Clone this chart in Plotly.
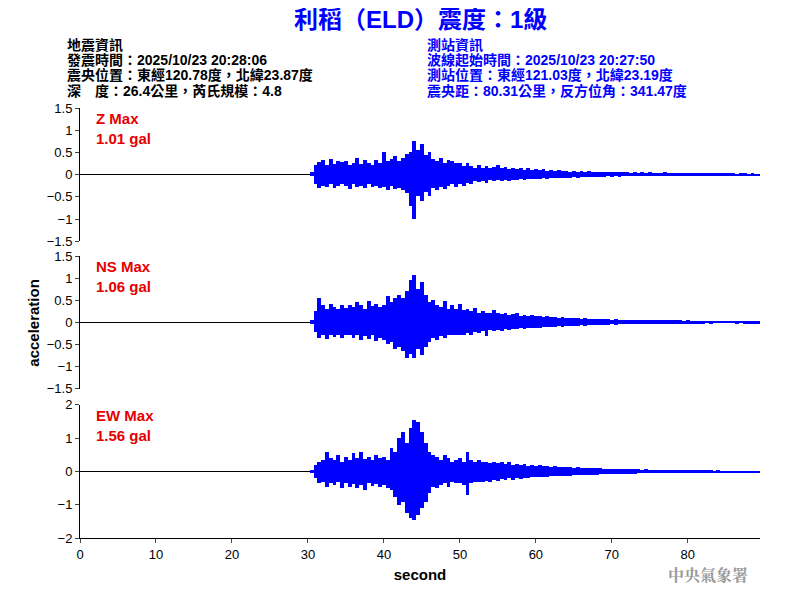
import plotly.graph_objects as go
from plotly.subplots import make_subplots

# 各分量振幅包絡（gal），每 0.5 秒一格，自 30.5 秒起
T_START = 30.5
DT = 0.5

Z_HI = [0.05, 0.22, 0.28, 0.32, 0.22, 0.36, 0.25, 0.3, 0.28,
        0.3, 0.22, 0.27, 0.38, 0.25, 0.32, 0.27, 0.22, 0.33, 0.26,
        0.5, 0.3, 0.36, 0.42, 0.3, 0.38, 0.46, 0.52, 0.75, 0.55,
        0.68, 0.45, 0.52, 0.35, 0.3, 0.38, 0.26, 0.32, 0.3, 0.26,
        0.27, 0.2, 0.26, 0.2, 0.16, 0.22, 0.15, 0.2, 0.14, 0.18,
        0.22, 0.14, 0.17, 0.13, 0.16, 0.12, 0.15, 0.11, 0.14, 0.1,
        0.13, 0.1, 0.12, 0.09, 0.11, 0.08, 0.1, 0.08, 0.09, 0.07,
        0.09, 0.07, 0.08, 0.06, 0.08, 0.06, 0.07, 0.06, 0.07, 0.05,
        0.06, 0.05, 0.06, 0.05, 0.06, 0.04, 0.05, 0.04, 0.05, 0.04,
        0.05, 0.04, 0.04, 0.04, 0.05, 0.03, 0.04, 0.03, 0.04, 0.03,
        0.04, 0.03, 0.04, 0.03, 0.03, 0.03, 0.04, 0.03, 0.03, 0.03,
        0.03, 0.03, 0.03, 0.02, 0.03, 0.03, 0.02, 0.03, 0.02, 0.02]
Z_LO = [-0.04, -0.2, -0.3, -0.25, -0.28, -0.22, -0.3, -0.25, -0.22,
        -0.26, -0.32, -0.22, -0.28, -0.25, -0.3, -0.22, -0.28, -0.25, -0.3,
        -0.28, -0.35, -0.25, -0.32, -0.3, -0.35, -0.42, -0.7, -1.0, -0.48,
        -0.6, -0.4, -0.48, -0.3, -0.35, -0.28, -0.32, -0.25, -0.22, -0.28,
        -0.2, -0.25, -0.18, -0.2, -0.15, -0.17, -0.14, -0.18, -0.13, -0.15,
        -0.13, -0.15, -0.12, -0.14, -0.11, -0.12, -0.1, -0.12, -0.09, -0.1,
        -0.09, -0.1, -0.08, -0.09, -0.08, -0.08, -0.07, -0.08, -0.07, -0.07,
        -0.06, -0.07, -0.06, -0.06, -0.05, -0.06, -0.05, -0.05, -0.05, -0.04,
        -0.05, -0.04, -0.05, -0.04, -0.04, -0.04, -0.04, -0.04, -0.03, -0.04,
        -0.03, -0.04, -0.03, -0.03, -0.03, -0.03, -0.03, -0.03, -0.03, -0.02,
        -0.03, -0.02, -0.03, -0.02, -0.03, -0.02, -0.02, -0.02, -0.02, -0.02,
        -0.02, -0.02, -0.02, -0.02, -0.02, -0.02, -0.02, -0.02, -0.02, -0.02]

NS_HI = [0.05, 0.25, 0.55, 0.4, 0.3, 0.42, 0.35, 0.3, 0.38,
         0.32, 0.4, 0.35, 0.45, 0.38, 0.3, 0.48, 0.36, 0.42, 0.35,
         0.4, 0.6, 0.45, 0.55, 0.62, 0.55, 0.7, 0.95, 1.06, 0.75,
         0.9, 0.62, 0.45, 0.5, 0.4, 0.35, 0.48, 0.3, 0.38, 0.3,
         0.42, 0.28, 0.3, 0.25, 0.32, 0.22, 0.26, 0.2, 0.22, 0.28,
         0.2, 0.18, 0.22, 0.16, 0.18, 0.2, 0.15, 0.17, 0.14, 0.16,
         0.13, 0.15, 0.12, 0.13, 0.11, 0.12, 0.1, 0.11, 0.1, 0.1,
         0.09, 0.1, 0.08, 0.09, 0.08, 0.08, 0.07, 0.08, 0.07, 0.07,
         0.06, 0.07, 0.06, 0.06, 0.05, 0.06, 0.05, 0.05, 0.05, 0.05,
         0.05, 0.04, 0.05, 0.04, 0.04, 0.04, 0.04, 0.04, 0.04, 0.03,
         0.04, 0.03, 0.03, 0.03, 0.03, 0.03, 0.03, 0.03, 0.03, 0.03,
         0.03, 0.03, 0.03, 0.02, 0.03, 0.02, 0.02, 0.02, 0.02, 0.02]
NS_LO = [-0.05, -0.22, -0.35, -0.3, -0.38, -0.28, -0.33, -0.3, -0.35,
         -0.3, -0.28, -0.35, -0.3, -0.4, -0.32, -0.38, -0.3, -0.42, -0.35,
         -0.4, -0.5, -0.45, -0.6, -0.55, -0.65, -0.8, -0.72, -0.8, -0.6,
         -0.75, -0.55, -0.45, -0.35, -0.4, -0.32, -0.35, -0.28, -0.3, -0.3,
         -0.28, -0.3, -0.25, -0.28, -0.22, -0.25, -0.2, -0.32, -0.18, -0.2,
         -0.18, -0.2, -0.16, -0.17, -0.15, -0.16, -0.14, -0.15, -0.13, -0.13,
         -0.12, -0.13, -0.11, -0.11, -0.1, -0.1, -0.09, -0.1, -0.09, -0.08,
         -0.08, -0.08, -0.07, -0.08, -0.07, -0.07, -0.06, -0.06, -0.06, -0.06,
         -0.05, -0.06, -0.05, -0.05, -0.05, -0.05, -0.04, -0.05, -0.04, -0.04,
         -0.04, -0.04, -0.04, -0.04, -0.03, -0.04, -0.03, -0.03, -0.03, -0.03,
         -0.03, -0.03, -0.03, -0.03, -0.03, -0.02, -0.03, -0.02, -0.02, -0.02,
         -0.02, -0.02, -0.02, -0.02, -0.02, -0.02, -0.02, -0.02, -0.02, -0.02]

EW_HI = [0.05, 0.2, 0.3, 0.35, 0.6, 0.4, 0.35, 0.5, 0.3,
         0.45, 0.35, 0.55, 0.4, 0.6, 0.38, 0.45, 0.35, 0.5, 0.4,
         0.45, 0.35, 0.7, 0.6, 1.0, 1.2, 0.85, 1.3, 1.56, 1.5,
         1.2, 0.85, 0.6, 0.5, 0.45, 0.35, 0.5, 0.4, 0.3, 0.35,
         0.4, 0.3, 0.6, 0.35, 0.3, 0.35, 0.28, 0.3, 0.25, 0.3,
         0.25, 0.3, 0.22, 0.28, 0.2, 0.24, 0.2, 0.22, 0.18, 0.2,
         0.18, 0.2, 0.16, 0.17, 0.15, 0.16, 0.14, 0.15, 0.13, 0.14,
         0.12, 0.13, 0.11, 0.12, 0.1, 0.11, 0.1, 0.1, 0.09, 0.09,
         0.08, 0.09, 0.08, 0.08, 0.07, 0.08, 0.07, 0.07, 0.06, 0.07,
         0.06, 0.06, 0.06, 0.05, 0.06, 0.05, 0.05, 0.05, 0.05, 0.04,
         0.05, 0.04, 0.04, 0.04, 0.04, 0.04, 0.04, 0.03, 0.04, 0.03,
         0.03, 0.03, 0.03, 0.03, 0.03, 0.03, 0.03, 0.03, 0.03, 0.03]
EW_LO = [-0.05, -0.2, -0.35, -0.3, -0.45, -0.35, -0.4, -0.3, -0.5,
         -0.35, -0.45, -0.38, -0.5, -0.4, -0.55, -0.35, -0.42, -0.38, -0.45,
         -0.4, -0.5, -0.55, -0.75, -1.0, -0.9, -1.25, -1.4, -1.45, -1.3,
         -1.1, -0.9, -0.65, -0.45, -0.5, -0.4, -0.35, -0.45, -0.3, -0.35,
         -0.35, -0.4, -0.7, -0.35, -0.3, -0.32, -0.3, -0.28, -0.3, -0.25,
         -0.28, -0.22, -0.25, -0.2, -0.24, -0.2, -0.22, -0.18, -0.2, -0.17,
         -0.17, -0.16, -0.15, -0.15, -0.14, -0.14, -0.13, -0.13, -0.12, -0.12,
         -0.11, -0.11, -0.1, -0.1, -0.09, -0.09, -0.09, -0.08, -0.08, -0.08,
         -0.07, -0.07, -0.07, -0.06, -0.06, -0.06, -0.06, -0.05, -0.05, -0.05,
         -0.05, -0.05, -0.05, -0.04, -0.04, -0.04, -0.04, -0.04, -0.04, -0.04,
         -0.04, -0.03, -0.03, -0.03, -0.03, -0.03, -0.03, -0.03, -0.03, -0.03,
         -0.03, -0.03, -0.03, -0.03, -0.03, -0.03, -0.03, -0.02, -0.03, -0.02]

CHANNELS = ["Z", "NS", "EW"]
MAX_GAL = ["1.01", "1.06", "1.56"]
Y_RANGES = [1.5, 1.5, 2.0]
Y_TICKS = [[-1.5, -1, -0.5, 0, 0.5, 1, 1.5],
           [-1.5, -1, -0.5, 0, 0.5, 1, 1.5],
           [-2, -1, 0, 1, 2]]
X_TICKS = [0, 10, 20, 30, 40, 50, 60, 70, 80]

INFO_LEFT = ["地震資訊", "發震時間：2025/10/23 20:28:06",
             "震央位置：東經120.78度，北緯23.87度", "深　度：26.4公里，芮氏規模：4.8"]
INFO_RIGHT = ["測站資訊", "波線起始時間：2025/10/23 20:27:50",
              "測站位置：東經121.03度，北緯23.19度", "震央距：80.31公里，反方位角：341.47度"]

FONT = "Liberation Sans, Noto Sans CJK TC, sans-serif"

fig = make_subplots(rows=3, cols=1, vertical_spacing=0.035)
DOMAINS = [[0.690, 1.0], [0.347, 0.655], [0.0, 0.310]]

t = [T_START + DT * i for i in range(len(Z_HI))]
for r, (hi, lo) in enumerate([(Z_HI, Z_LO), (NS_HI, NS_LO), (EW_HI, EW_LO)], start=1):
    fig.add_trace(go.Bar(x=t, y=[h - l for h, l in zip(hi, lo)], base=lo, width=DT,
                         marker=dict(color="#0000ff", line=dict(width=0)),
                         showlegend=False, hoverinfo="skip"), row=r, col=1)
    yr = Y_RANGES[r - 1]
    fig.update_yaxes(range=[-yr, yr], tickvals=Y_TICKS[r - 1], ticks="outside",
                     ticklen=4, showgrid=False, showline=True, linecolor="black",
                     zeroline=True, zerolinecolor="black", zerolinewidth=1,
                     domain=DOMAINS[r - 1], tickfont=dict(size=13, color="black"),
                     row=r, col=1)
    fig.update_xaxes(range=[0, 89.5], showgrid=False, showticklabels=(r == 3),
                     showline=(r == 3), linecolor="black",
                     ticks="outside" if r == 3 else "", ticklen=4,
                     tickvals=X_TICKS, tickfont=dict(size=13, color="black"),
                     row=r, col=1)
    fig.add_annotation(xref=f"x{'' if r == 1 else r} domain", yref=f"y{'' if r == 1 else r} domain",
                       x=0.02, y=1.0, xanchor="left", yanchor="top", align="left",
                       text=f"<b>{CHANNELS[r - 1]} Max<br>{MAX_GAL[r - 1]} gal</b>", showarrow=False,
                       font=dict(size=15, color="#e60000", family=FONT))

fig.update_xaxes(title=dict(text="<b>second</b>", font=dict(size=15, color="black"), standoff=8),
                 row=3, col=1)

fig.add_annotation(xref="paper", yref="paper", x=-0.085, y=0.5, textangle=-90,
                   text="<b>acceleration</b>", showarrow=False,
                   font=dict(size=15, color="black", family=FONT))

fig.add_annotation(xref="paper", yref="paper", x=0.5, y=1.205, yanchor="middle",
                   text="<b>利稻（ELD）震度：1級</b>", showarrow=False,
                   font=dict(size=24, color="#0000ff", family=FONT))
for i, (ltxt, rtxt) in enumerate(zip(INFO_LEFT, INFO_RIGHT)):
    y = 1.147 - i * 0.0355
    fig.add_annotation(xref="paper", yref="paper", x=-0.022, y=y, xanchor="left",
                       yanchor="middle", text=f"<b>{ltxt}</b>", showarrow=False,
                       font=dict(size=14, color="black", family=FONT))
    fig.add_annotation(xref="paper", yref="paper", x=0.507, y=y, xanchor="left",
                       yanchor="middle", text=f"<b>{rtxt}</b>", showarrow=False,
                       font=dict(size=14, color="#0000ff", family=FONT))

fig.add_annotation(xref="paper", yref="paper", x=0.985, y=-0.085, xanchor="right",
                   yanchor="middle", text="<b>中央氣象署</b>", showarrow=False,
                   font=dict(size=16, color="#999999", family="Noto Serif CJK TC, Noto Sans CJK TC"))

fig.update_layout(width=784, height=584, margin=dict(l=72, r=32, t=100, b=49),
                  plot_bgcolor="white", paper_bgcolor="white", bargap=0,
                  font=dict(family=FONT, color="black"))

fig.write_html("out.html")
